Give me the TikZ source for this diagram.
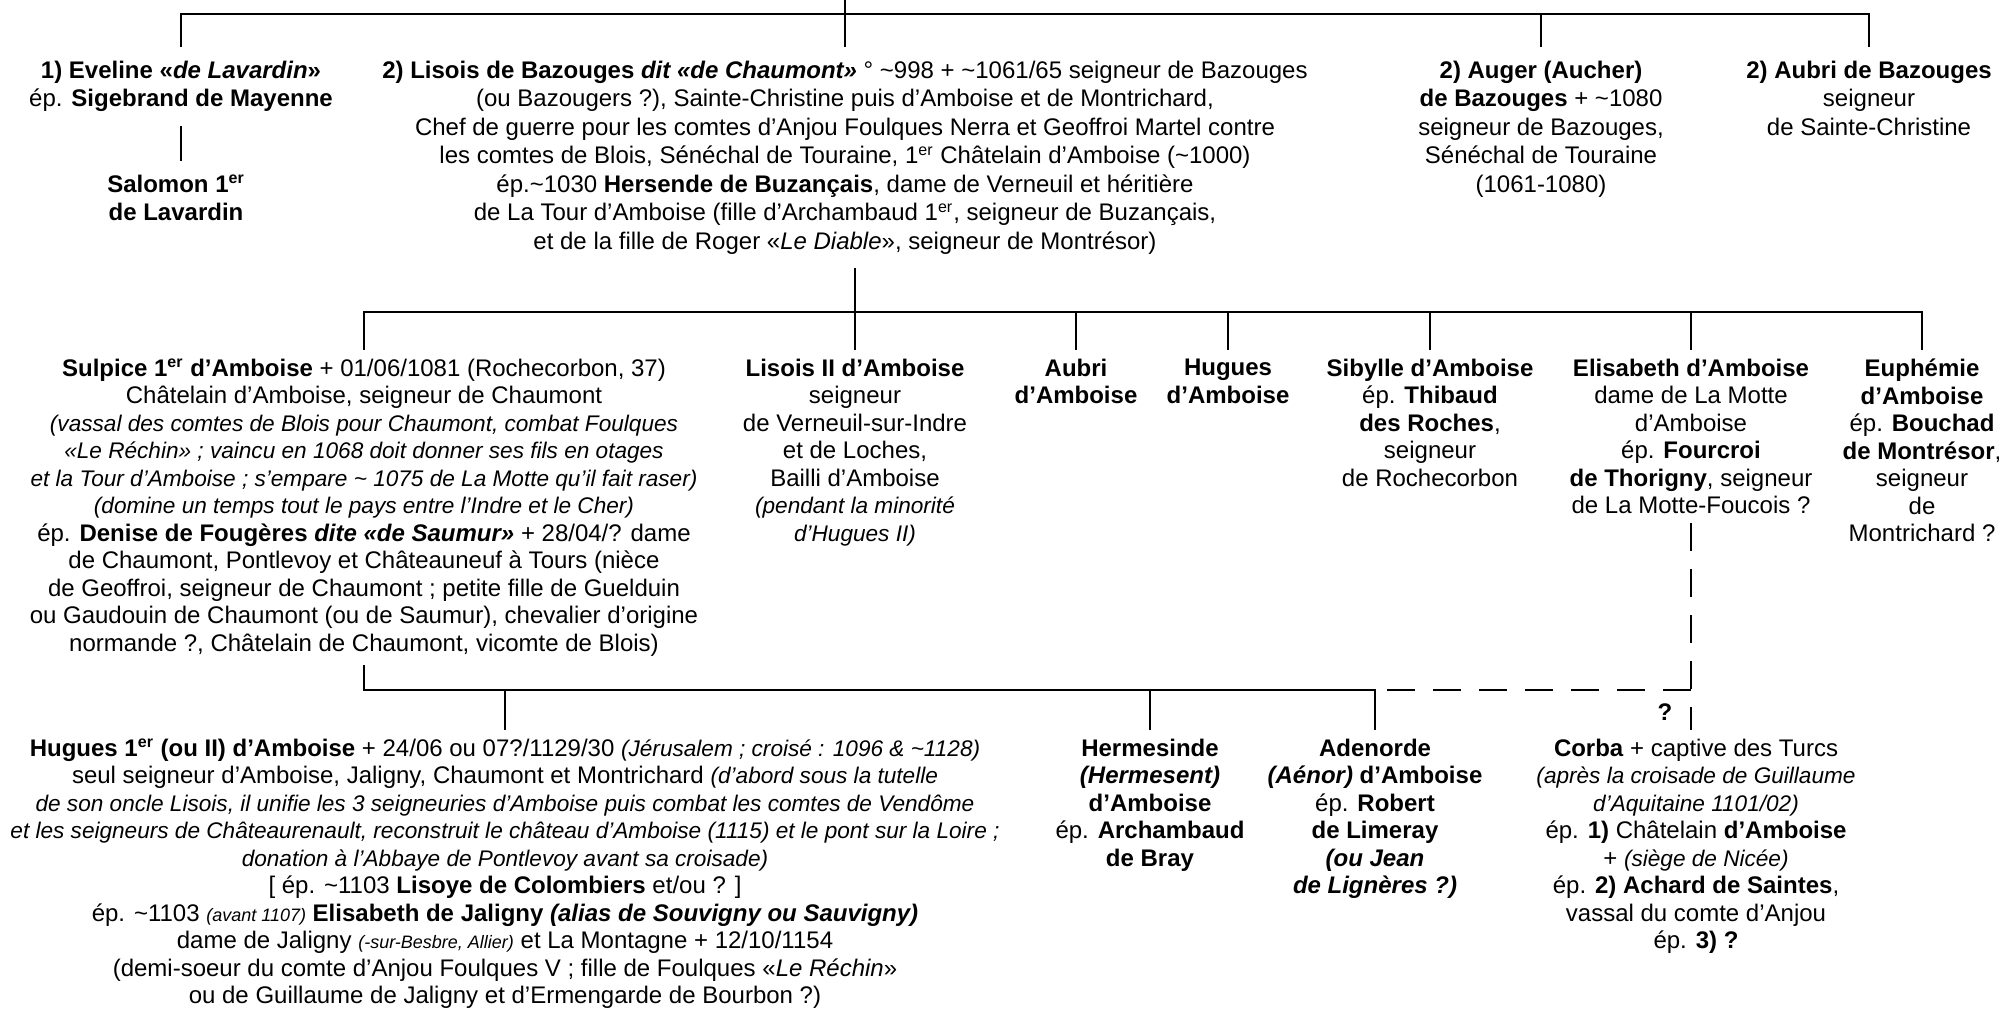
\documentclass[tikz,border=0pt]{standalone}
\usepackage{fontspec}
\setmainfont{Liberation Sans}
\newcommand{\ier}{\textsuperscript{er}}
\newcommand{\smallit}[1]{{\fontsize{11.3}{13.75}\selectfont\itshape #1}}
\newcommand{\tinyit}[1]{{\fontsize{9}{13.75}\selectfont\itshape #1}}

\begin{document}
\begin{tikzpicture}[x=0.5pt, y=-0.5pt,
        person/.style={anchor=north, align=center, inner sep=0pt, outer ysep=4.5pt, font=\fontsize{12}{13.75}\selectfont},
        elder/.style={person, outer ysep=7pt, font=\fontsize{12}{14.25}\selectfont},
        link/.style={line width=1.3pt},
        maybe/.style={link, dash pattern=on 14pt off 9pt}]

        \fill[white] (0,0) rectangle (2002,1010);
        \useasboundingbox (0,0) rectangle (2002,1010);

        \node[elder] (eveline) at (181,47) {\textbf{1) Eveline «\textit{de Lavardin}»}\\ép. \textbf{Sigebrand de Mayenne}};
        \node[elder] (salomon) at (176,161) {\textbf{Salomon 1\ier}\\\textbf{de Lavardin}};
        \node[elder] (lisois) at (845,47) {\textbf{2) Lisois de Bazouges \textit{dit «de Chaumont»}} ° \textasciitilde998 + \textasciitilde1061/65 seigneur de Bazouges\\
                (ou Bazougers ?), Sainte-Christine puis d’Amboise et de Montrichard,\\
                Chef de guerre pour les comtes d’Anjou Foulques Nerra et Geoffroi Martel contre\\
                les comtes de Blois, Sénéchal de Touraine, 1\ier{} Châtelain d’Amboise (\textasciitilde1000)\\
                ép.\textasciitilde1030 \textbf{Hersende de Buzançais}, dame de Verneuil et héritière\\
                de La Tour d’Amboise (fille d’Archambaud 1\ier, seigneur de Buzançais,\\
                et de la fille de Roger «\textit{Le Diable}», seigneur de Montrésor)};
        \node[elder] (auger) at (1541,47) {\textbf{2) Auger (Aucher)}\\\textbf{de Bazouges} + \textasciitilde1080\\seigneur de Bazouges,\\Sénéchal de Touraine\\(1061-1080)};
        \node[elder] (aubri) at (1869,47) {\textbf{2) Aubri de Bazouges}\\seigneur\\de Sainte-Christine};

        \node[person] (sulpice) at (364,350) {\textbf{Sulpice 1\ier{} d’Amboise} + 01/06/1081 (Rochecorbon, 37)\\
                Châtelain d’Amboise, seigneur de Chaumont\\
                \smallit{(vassal des comtes de Blois pour Chaumont, combat Foulques}\\
                \smallit{«Le Réchin» ; vaincu en 1068 doit donner ses fils en otages}\\
                \smallit{et la Tour d’Amboise ; s’empare \textasciitilde{} 1075 de La Motte qu’il fait raser)}\\
                \smallit{(domine un temps tout le pays entre l’Indre et le Cher)}\\
                ép. \textbf{Denise de Fougères \textit{dite «de Saumur»}} + 28/04/? dame\\
                de Chaumont, Pontlevoy et Châteauneuf à Tours (nièce\\
                de Geoffroi, seigneur de Chaumont ; petite fille de Guelduin\\
                ou Gaudouin de Chaumont (ou de Saumur), chevalier d’origine\\
                normande ?, Châtelain de Chaumont, vicomte de Blois)};
        \node[person] (lisois2) at (855,350) {\textbf{Lisois II d’Amboise}\\seigneur\\de Verneuil-sur-Indre\\et de Loches,\\Bailli d’Amboise\\\smallit{(pendant la minorité}\\\smallit{d’Hugues II)}};
        \node[person] (aubri2) at (1076,350) {\textbf{Aubri}\\\textbf{d’Amboise}};
        \node[person] (hugues) at (1228,350) {\textbf{Hugues}\\\textbf{d’Amboise}};
        \node[person] (sibylle) at (1430,350) {\textbf{Sibylle d’Amboise}\\ép. \textbf{Thibaud}\\\textbf{des Roches},\\seigneur\\de Rochecorbon};
        \node[person] (elisabeth) at (1691,350) {\textbf{Elisabeth d’Amboise}\\dame de La Motte\\d’Amboise\\ép. \textbf{Fourcroi}\\\textbf{de Thorigny}, seigneur\\de La Motte-Foucois ?};
        \node[person] (euphemie) at (1922,350) {\textbf{Euphémie}\\\textbf{d’Amboise}\\ép. \textbf{Bouchad}\\\textbf{de Montrésor},\\seigneur\\de\\Montrichard ?};

        \node[person] (huguesii) at (505,730) {\textbf{Hugues 1\ier{} (ou II) d’Amboise} + 24/06 ou 07?/1129/30 \smallit{(Jérusalem ; croisé : 1096 \& \textasciitilde1128)}\\
                seul seigneur d’Amboise, Jaligny, Chaumont et Montrichard \smallit{(d’abord sous la tutelle}\\
                \smallit{de son oncle Lisois, il unifie les 3 seigneuries d’Amboise puis combat les comtes de Vendôme}\\
                \smallit{et les seigneurs de Châteaurenault, reconstruit le château d’Amboise (1115) et le pont sur la Loire ;}\\
                \smallit{donation à l’Abbaye de Pontlevoy avant sa croisade)}\\
                {[} ép. \textasciitilde1103 \textbf{Lisoye de Colombiers} et/ou ? ]\\
                ép. \textasciitilde1103 \tinyit{(avant 1107)} \textbf{Elisabeth de Jaligny \textit{(alias de Souvigny ou Sauvigny)}}\\
                dame de Jaligny \tinyit{(-sur-Besbre, Allier)} et La Montagne + 12/10/1154\\
                (demi-soeur du comte d’Anjou Foulques V ; fille de Foulques «\textit{Le Réchin}»\\
                ou de Guillaume de Jaligny et d’Ermengarde de Bourbon ?)};
        \node[person] (hermesinde) at (1150,730) {\textbf{Hermesinde}\\\textbf{\textit{(Hermesent)}}\\\textbf{d’Amboise}\\ép. \textbf{Archambaud}\\\textbf{de Bray}};
        \node[person] (adenorde) at (1375,730) {\textbf{Adenorde}\\\textbf{\textit{(Aénor)} d’Amboise}\\ép. \textbf{Robert}\\\textbf{de Limeray}\\\textbf{\textit{(ou Jean}}\\\textbf{\textit{de Lignères ?)}}};
        \node[person] (corba) at (1696,730) {\textbf{Corba} + captive des Turcs\\
                \smallit{(après la croisade de Guillaume}\\
                \smallit{d’Aquitaine 1101/02)}\\
                ép. \textbf{1)} Châtelain \textbf{d’Amboise}\\
                + \smallit{(siège de Nicée)}\\
                ép. \textbf{2) Achard de Saintes},\\
                vassal du comte d’Anjou\\
                ép. \textbf{3) ?}};
        \node[font=\bfseries\fontsize{12}{13.75}\selectfont] (query) at (1665,712) {?};

        \coordinate (top) at (845,0);
        \coordinate (bus1) at (0,14);
        \coordinate (bus2) at (0,312);
        \coordinate (bus3) at (0,690);

        \draw[link] (top) -- (lisois.north);
        \draw[link] (eveline.north) -- (eveline.north |- bus1) -- (aubri.north |- bus1) -- (aubri.north);
        \draw[link] (auger.north) -- (auger.north |- bus1);
        \draw[link] (eveline.south) -- (eveline.south |- salomon.north);

        \draw[link] (lisois.south -| lisois2.north) -- (lisois2.north);
        \draw[link] (sulpice.north) -- (sulpice.north |- bus2) -- (euphemie.north |- bus2) -- (euphemie.north);
        \foreach \n in {aubri2, hugues, sibylle, elisabeth}
            \draw[link] (\n.north) -- (\n.north |- bus2);

        \draw[link] (sulpice.south) -- (sulpice.south |- bus3) -- (adenorde.north |- bus3) -- (adenorde.north);
        \foreach \n in {huguesii, hermesinde}
            \draw[link] (\n.north) -- (\n.north |- bus3);
        \coordinate (corner) at (elisabeth.south |- bus3);
        \draw[maybe] (elisabeth.south) -- (elisabeth.south |- corba.north);
        \draw[maybe] (corner) -- (adenorde.north |- bus3);
    \end{tikzpicture}
\end{document}
